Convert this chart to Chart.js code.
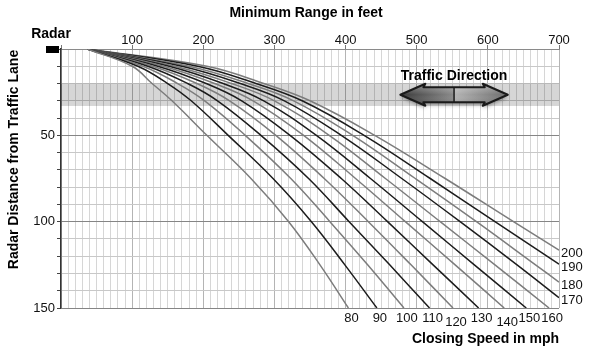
<!DOCTYPE html>
<html><head><meta charset="utf-8">
<script src="https://cdn.jsdelivr.net/npm/chart.js@4"></script>
<style>html,body{margin:0;padding:0;background:#fff;}#wrap{width:590px;height:355px;}</style>
</head><body><div id="wrap"><canvas id="c" width="590" height="355"></canvas></div>
<script>
// ---- data ----
const speeds = [80, 90, 100, 110, 120, 130, 140, 150, 160, 170, 180, 190, 200];
const depthFeet = [0, 10, 20, 30, 50, 75, 100, 125, 150];
// minimum range (ft) at each radar distance in depthFeet; null = beyond 700 ft
const range80  = [37, 100, 128, 156, 205, 267, 320, 364, 404];
const range90  = [37, 108, 150, 183, 235, 298, 352, 399, 444];
const range100 = [37, 115, 164, 202, 259, 323, 378, 431, 482];
const range110 = [37, 122, 178, 220, 281, 348, 405, 462, 518];
const range120 = [37, 129, 191, 237, 302, 370, 432, 492, 551];
const range130 = [37, 136, 204, 254, 322, 394, 459, 523, 587];
const range140 = [37, 144, 216, 270, 341, 414, 484, 554, 623];
const range150 = [37, 152, 228, 285, 359, 435, 508, 581, 654];
const range160 = [37, 160, 240, 300, 377, 456, 533, 610, 686];
const range170 = [37, 170, 252, 314, 394, 479, 561, 641, null];
const range180 = [37, 180, 263, 327, 410, 498, 584, 667, null];
const range190 = [37, 192, 274, 339, 426, 519, 610, null, null];
const range200 = [37, 205, 285, 350, 441, 540, 636, null, null];
// radar distance where the curve leaves the chart at the 700 ft edge
const edgeDepth = [null, null, null, null, null, null, null, null, null, 144, 135, 124.6, 116.5];
const laneBand = [20, 33];
const arrowRange = [477, 628];
const rangeLabels = [100, 200, 300, 400, 500, 600, 700];
const depthLabels = [50, 100, 150];

const ranges = [range80, range90, range100, range110, range120, range130, range140,
                range150, range160, range170, range180, range190, range200];

const GRAY = '#7c7c7c', DARK = '#1c1c1c';
const FONT = "'Liberation Sans', Arial, Helvetica, sans-serif";

const datasets = speeds.map((s, i) => {
  const pts = [];
  ranges[i].forEach((r, k) => { if (r !== null) pts.push({x: r, y: depthFeet[k]}); });
  if (edgeDepth[i] !== null) pts.push({x: 700, y: edgeDepth[i]});
  return {
    label: s + ' mph',
    data: pts,
    borderColor: i % 2 === 0 ? GRAY : DARK,
    borderWidth: 1.5,
    pointRadius: 0,
    fill: false,
    tension: 0.4,
    clip: 0
  };
});

const decor = {
  id: 'decor',
  beforeDatasetsDraw(chart) {
    const {ctx, chartArea: a, scales: {y}} = chart;
    ctx.save();
    ctx.fillStyle = 'rgba(0,0,0,0.16)';
    const y1 = y.getPixelForValue(laneBand[0]), y2 = y.getPixelForValue(laneBand[1]);
    ctx.fillRect(a.left, y1, a.right - a.left, y2 - y1);
    ctx.restore();
  },
  afterDatasetsDraw(chart) {
    const {ctx, chartArea: a, scales: {x, y}} = chart;
    ctx.save();
    // arrow
    const x1 = x.getPixelForValue(arrowRange[0]), x2 = x.getPixelForValue(arrowRange[1]);
    const cy = y.getPixelForValue((laneBand[0] + laneBand[1]) / 2);
    const hl = 25, hh = 11, sh = 7.5, xm = (x1 + x2) / 2;
    const path = () => {
      ctx.beginPath();
      ctx.moveTo(x1, cy);
      ctx.lineTo(x1 + hl, cy - hh); ctx.lineTo(x1 + hl - 2, cy - sh);
      ctx.lineTo(x2 - hl + 2, cy - sh); ctx.lineTo(x2 - hl, cy - hh);
      ctx.lineTo(x2, cy);
      ctx.lineTo(x2 - hl, cy + hh); ctx.lineTo(x2 - hl + 2, cy + sh);
      ctx.lineTo(x1 + hl - 2, cy + sh); ctx.lineTo(x1 + hl, cy + hh);
      ctx.closePath();
    };
    ctx.save();
    ctx.shadowColor = 'rgba(0,0,0,0.45)'; ctx.shadowBlur = 4; ctx.shadowOffsetY = 2;
    path();
    const g = ctx.createLinearGradient(x1, 0, x2, 0);
    g.addColorStop(0, '#3a3a3a'); g.addColorStop(0.5, '#8a8a8a');
    g.addColorStop(0.5, '#b4b4b4'); g.addColorStop(1, '#6c6c6c');
    ctx.fillStyle = g; ctx.fill();
    ctx.restore();
    path();
    const gv = ctx.createLinearGradient(0, cy - hh, 0, cy + hh);
    gv.addColorStop(0, 'rgba(255,255,255,0.35)'); gv.addColorStop(0.5, 'rgba(255,255,255,0)');
    gv.addColorStop(1, 'rgba(0,0,0,0.25)');
    ctx.fillStyle = gv; ctx.fill();
    ctx.lineWidth = 2; ctx.strokeStyle = '#1a1a1a'; ctx.lineJoin = 'round'; ctx.stroke();
    ctx.beginPath(); ctx.moveTo(xm, cy - sh); ctx.lineTo(xm, cy + sh);
    ctx.lineWidth = 1.5; ctx.stroke();
    // speed labels
    ctx.fillStyle = '#111';
    ctx.font = '13px ' + FONT;
    speeds.forEach((s, i) => {
      if (edgeDepth[i] === null) {
        const r = ranges[i][ranges[i].length - 1];
        const off = (s === 120 || s === 140) ? 14 : 10;
        ctx.textAlign = 'center'; ctx.textBaseline = 'middle';
        ctx.fillText(String(s), x.getPixelForValue(r) + 3, a.bottom + off);
      } else {
        ctx.textAlign = 'left'; ctx.textBaseline = 'middle';
        ctx.fillText(String(s), a.right + 2, y.getPixelForValue(edgeDepth[i]) + 3);
      }
    });
    ctx.restore();
  },
  afterDraw(chart) {
    const {ctx, chartArea: a, scales: {x}} = chart;
    ctx.save();
    ctx.fillStyle = '#000';
    ctx.font = 'bold 14px ' + FONT;
    ctx.textBaseline = 'middle';
    ctx.textAlign = 'center';
    ctx.fillText('Minimum Range in feet', 306, 13);
    ctx.fillText('Radar', 51, 34);
    ctx.fillText('Traffic Direction', x.getPixelForValue((arrowRange[0] + arrowRange[1]) / 2), 76);
    ctx.textAlign = 'right';
    ctx.fillText('Closing Speed in mph', a.right, 339);
    ctx.save();
    ctx.translate(14, (a.top + a.bottom) / 2 - 19);
    ctx.rotate(-Math.PI / 2);
    ctx.textAlign = 'center';
    ctx.fillText('Radar Distance from Traffic Lane', 0, 0);
    ctx.restore();
    ctx.fillRect(a.left - 15, a.top - 3, 13, 7);
    ctx.restore();
  }
};

new Chart(document.getElementById('c'), {
  type: 'line',
  data: {datasets},
  options: {
    responsive: false, animation: false, devicePixelRatio: 1,
    layout: {padding: {left: 0, top: 0, right: 31, bottom: 47}},
    plugins: {legend: {display: false}, tooltip: {enabled: false}, title: {display: false}},
    scales: {
      x: {
        type: 'linear', position: 'top', min: 0, max: 700,
        afterFit: s => { s.height = 49; },
        ticks: {stepSize: 10, autoSkip: false, maxRotation: 0, minRotation: 0, padding: -3,
          color: '#111', font: {family: FONT, size: 13},
          callback: v => rangeLabels.includes(v) ? String(v) : ''},
        grid: {
          color: c => (c.tick && c.tick.value % 100 === 0) ? '#b4b4b4' : '#d6d6d6',
          lineWidth: 1, tickLength: 4,
          tickColor: c => (c.tick && c.tick.value % 100 === 0) ? '#777' : 'rgba(0,0,0,0)'
        },
        border: {display: true, color: '#8a8a8a', width: 1}
      },
      y: {
        type: 'linear', reverse: true, min: 0, max: 150,
        afterFit: s => { s.width = 61; },
        ticks: {stepSize: 10, autoSkip: false, padding: 2, color: '#111',
          font: {family: FONT, size: 13},
          callback: v => depthLabels.includes(v) ? String(v) : ''},
        grid: {
          color: c => (c.tick && c.tick.value % 50 === 0) ? '#858585' : '#c8c8c8',
          lineWidth: 1, tickLength: 4, tickColor: '#444'
        },
        border: {display: true, color: '#333', width: 1.5}
      }
    }
  },
  plugins: [decor]
});
</script>
</body></html>
